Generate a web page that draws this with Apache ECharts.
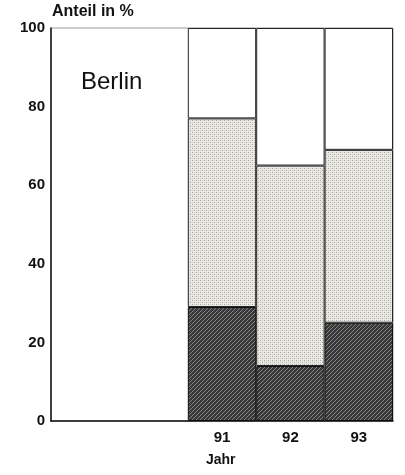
<!DOCTYPE html>
<html><head><meta charset="utf-8">
<script src="https://cdn.jsdelivr.net/npm/echarts@6/dist/echarts.min.js"></script>
<style>html,body{margin:0;padding:0;background:#fff}#c{width:405px;height:475px}</style>
</head><body><div id="c"></div>
<script>
const categories = ['', '', '91', '92', '93'];
const darkShare = [null, null, 29, 14, 25];
const totalShare = [null, null, 77, 65, 69];
const yTicks = [0, 20, 40, 60, 80, 100];

const lightShare = totalShare.map((t, i) => t == null ? null : t - darkShare[i]);
const restShare = totalShare.map(t => t == null ? null : 100 - t);

function hatch() {
  const c = document.createElement('canvas'); c.width = 4; c.height = 4;
  const g = c.getContext('2d');
  g.fillStyle = '#383838'; g.fillRect(0, 0, 4, 4);
  g.fillStyle = '#858585';
  for (let i = 0; i < 4; i++) { g.fillRect(i, 3 - i, 1, 1); }
  return c;
}
function stipple() {
  const c = document.createElement('canvas'); c.width = 4; c.height = 4;
  const g = c.getContext('2d');
  g.fillStyle = '#eae9e4'; g.fillRect(0, 0, 4, 4);
  g.fillStyle = '#a5a49f';
  g.fillRect(0, 0, 1, 1); g.fillRect(2, 2, 1, 1);
  g.fillStyle = '#cfceca';
  g.fillRect(2, 0, 1, 1); g.fillRect(0, 2, 1, 1);
  return c;
}

const font = 'Liberation Sans, Arial, sans-serif';
const chart = echarts.init(document.getElementById('c'), null, {renderer: 'canvas'});
chart.setOption({
  animation: false,
  grid: {left: 51, right: 12, top: 28, bottom: 54, show: true, borderColor: '#999', borderWidth: 1},
  xAxis: {
    type: 'category', data: categories,
    axisLine: {lineStyle: {color: '#111', width: 1.5}},
    axisTick: {show: false},
    axisLabel: {fontFamily: font, fontWeight: 'bold', fontSize: 15, color: '#111', margin: 9}
  },
  yAxis: {
    type: 'value', min: 0, max: 100, interval: 20,
    axisLine: {show: true, lineStyle: {color: '#111', width: 1.5}},
    axisTick: {show: false},
    splitLine: {show: false},
    axisLabel: {fontFamily: font, fontWeight: 'bold', fontSize: 15, color: '#111', margin: 6,
      formatter: v => yTicks.includes(v) ? String(v) : ''}
  },
  series: [
    {type: 'bar', stack: 's', data: darkShare, barWidth: '100%', barCategoryGap: '0%',
      itemStyle: {color: {image: hatch(), repeat: 'repeat'}, borderColor: '#111', borderWidth: 1}},
    {type: 'bar', stack: 's', data: lightShare, barWidth: '100%',
      itemStyle: {color: {image: stipple(), repeat: 'repeat'}, borderColor: '#222', borderWidth: 1}},
    {type: 'bar', stack: 's', data: restShare, barWidth: '100%',
      itemStyle: {color: '#fff', borderColor: '#222', borderWidth: 1}}
  ],
  graphic: [
    {type: 'text', left: 52, top: 4, style: {text: 'Anteil in %', font: 'bold 16px ' + font, fill: '#111'}},
    {type: 'text', left: 81, top: 70, style: {text: 'Berlin', font: '24px ' + font, fill: '#111'}},
    {type: 'text', left: 206, top: 453, style: {text: 'Jahr', font: 'bold 14px ' + font, fill: '#111'}}
  ]
});
</script></body></html>
